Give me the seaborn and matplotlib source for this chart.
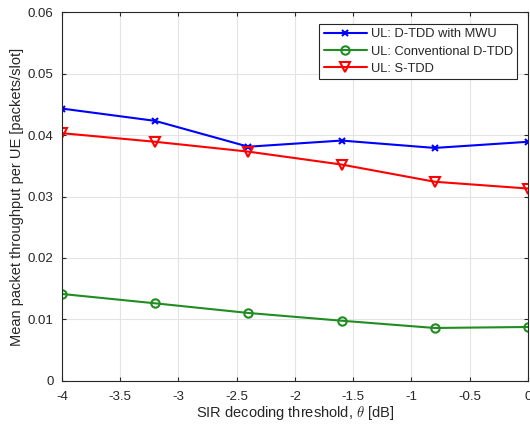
import matplotlib
matplotlib.use("Agg")
import matplotlib.pyplot as plt
import seaborn as sns
import pandas as pd

thresholds = [-4.0, -3.2, -2.4, -1.6, -0.8, 0.0]
dtdd_mwu = [0.0443, 0.0423, 0.0381, 0.0391, 0.0379, 0.0389]
conv_dtdd = [0.01415, 0.01263, 0.01106, 0.0098, 0.00862, 0.00878]
s_tdd = [0.0403, 0.0389, 0.0373, 0.0352, 0.0324, 0.0313]
series_names = ["UL: D-TDD with MWU", "UL: Conventional D-TDD", "UL: S-TDD"]
xticks = [-4, -3.5, -3, -2.5, -2, -1.5, -1, -0.5, 0]
xtick_labels = ["-4", "-3.5", "-3", "-2.5", "-2", "-1.5", "-1", "-0.5", "0"]
yticks = [0, 0.01, 0.02, 0.03, 0.04, 0.05, 0.06]
ytick_labels = ["0", "0.01", "0.02", "0.03", "0.04", "0.05", "0.06"]

sns.set_theme(style="white")
plt.rcParams['font.family'] = ['Liberation Sans', 'DejaVu Sans']
plt.rcParams['mathtext.fontset'] = 'cm'

fig = plt.figure(figsize=(5.3, 4.3), dpi=100)
ax = fig.add_axes([0.117, 0.114, 0.879, 0.858])

styles = [
    (dtdd_mwu, series_names[0], (0, 0, 1), 'x', 5),
    (conv_dtdd, series_names[1], (0.13, 0.55, 0.13), 'o', 6),
    (s_tdd, series_names[2], (1, 0, 0), 'v', 7),
]
for vals, name, col, mk, ms in styles:
    df = pd.DataFrame({"x": thresholds, "y": vals})
    sns.lineplot(data=df, x="x", y="y", ax=ax, color=col, marker=mk,
                 markersize=ms, mec=col, mfc='none', mew=1.5, lw=1.5,
                 label=name)

ax.set_xlim(-4, 0)
ax.set_ylim(0, 0.06)
ax.set_xticks(xticks)
ax.set_xticklabels(xtick_labels)
ax.set_yticks(yticks)
ax.set_yticklabels(ytick_labels)
ax.grid(True, color='#e3e3e3', lw=0.8)
ax.set_axisbelow(True)
ax.tick_params(direction='in', length=3, width=0.8, colors='#262626',
               labelsize=9.5, top=True, right=True, bottom=True, left=True,
               labelcolor='#262626')
ax.tick_params(axis='x', pad=7)
ax.tick_params(axis='y', pad=6)
for s in ax.spines.values():
    s.set_color('#262626')
    s.set_linewidth(0.8)
ax.set_xlabel(r"SIR decoding threshold, $\theta$ [dB]", fontsize=10.5, color='#262626', labelpad=1)
ax.set_ylabel("Mean packet throughput per UE [packets/slot]", fontsize=10.5, color='#262626', labelpad=3)

leg = ax.legend(loc='upper right', bbox_to_anchor=(0.977, 0.968), fontsize=9.3,
                fancybox=False, framealpha=1, edgecolor='#262626',
                handlelength=3.3, handletextpad=0.3, borderpad=0.35,
                labelspacing=0.4, borderaxespad=0)
leg.get_frame().set_linewidth(0.8)

fig.savefig("out.png", dpi=100)
